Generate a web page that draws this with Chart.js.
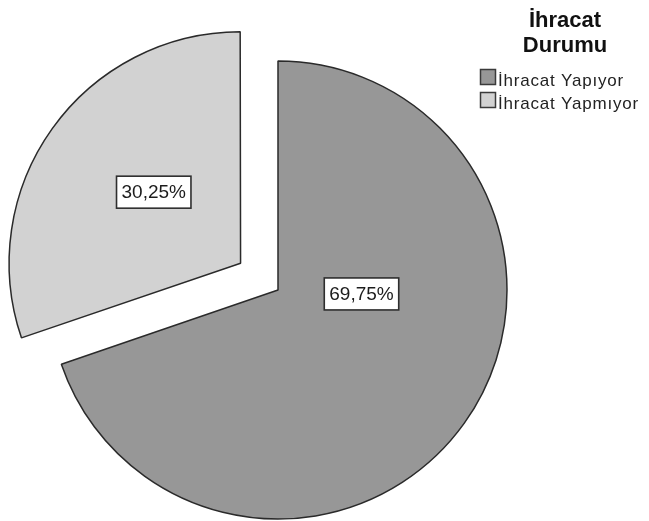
<!DOCTYPE html>
<html lang="tr">
<head>
  <meta charset="UTF-8" />
  <title>İhracat Durumu</title>
  <script src="https://cdn.jsdelivr.net/npm/chart.js"></script>
  <style>
    * { margin: 0; padding: 0; box-sizing: border-box; }
    body { background: #fff; }
    .wrap { position: relative; width: 649px; height: 521px; }
  </style>
</head>
<body>
  <div class="wrap"><canvas id="pie"></canvas></div>

  <script>
    const legendTitle = ['İhracat', 'Durumu'];
    const categories = ['İhracat Yapıyor', 'İhracat Yapmıyor'];
    const shares = [69.75, 30.25];
    const sliceColors = ['#979797', '#d2d2d2'];
    const explode = [0, 184]; // Chart.js shifts an arc by offset / 4

    // label placement inside each slice: angle from 12 o'clock (deg), distance as part of the radius
    const labelSpots = [[92.7, 0.365], [309.3, 0.49]];

    const fmt = v => v.toFixed(2).replace('.', ',') + '%';

    const pieDecor = {
      id: 'pieDecor',
      afterDatasetsDraw(chart) {
        const ctx = chart.ctx;
        const meta = chart.getDatasetMeta(0);

        // value boxes
        ctx.save();
        ctx.font = '19px "Liberation Sans", Arial, sans-serif';
        ctx.textAlign = 'center';
        ctx.textBaseline = 'middle';
        meta.data.forEach((arc, i) => {
          const mid = (arc.startAngle + arc.endAngle) / 2;
          const off = (explode[i] || 0) / 4;
          const cx = arc.x + Math.cos(mid) * off;
          const cy = arc.y + Math.sin(mid) * off;
          const a = labelSpots[i][0] * Math.PI / 180;
          const r = labelSpots[i][1] * arc.outerRadius;
          const x = cx + Math.sin(a) * r;
          const y = cy - Math.cos(a) * r;
          const text = fmt(shares[i]);
          const w = ctx.measureText(text).width + 10;
          const h = 32;
          ctx.fillStyle = '#fff';
          ctx.fillRect(x - w / 2, y - h / 2, w, h);
          ctx.strokeStyle = '#2e2e2e';
          ctx.lineWidth = 1.6;
          ctx.strokeRect(x - w / 2, y - h / 2, w, h);
          ctx.fillStyle = '#1c1c1c';
          ctx.fillText(text, x, y + 1);
        });
        ctx.restore();

        // legend title
        ctx.save();
        ctx.fillStyle = '#111';
        ctx.font = 'bold 22px "Liberation Sans", Arial, sans-serif';
        ctx.textAlign = 'center';
        ctx.textBaseline = 'alphabetic';
        ctx.fillText(legendTitle[0], 565, 27);
        ctx.fillText(legendTitle[1], 565, 52);
        ctx.restore();

        // legend items
        ctx.save();
        ctx.font = '17px "Liberation Sans", Arial, sans-serif';
        ctx.letterSpacing = '0.8px';
        ctx.textAlign = 'left';
        ctx.textBaseline = 'alphabetic';
        categories.forEach((name, i) => {
          const top = 69 + i * 23;
          ctx.fillStyle = sliceColors[i];
          ctx.fillRect(480, top, 16, 16);
          ctx.strokeStyle = '#3a3a3a';
          ctx.lineWidth = 1.5;
          ctx.strokeRect(480.5, top + 0.5, 15, 15);
          ctx.fillStyle = '#222';
          ctx.fillText(name, 498, top + 17);
        });
        ctx.restore();
      }
    };

    new Chart(document.getElementById('pie'), {
      type: 'pie',
      data: {
        labels: categories,
        datasets: [{
          data: shares,
          backgroundColor: sliceColors,
          borderColor: '#2a2a2a',
          borderWidth: 1.5,
          offset: explode,
          hoverOffset: 0
        }]
      },
      options: {
        responsive: true,
        maintainAspectRatio: false,
        animation: false,
        radius: 229,
        layout: { padding: { left: 0, right: 93, top: 59, bottom: 0 } },
        plugins: {
          legend: { display: false },
          tooltip: { enabled: false }
        }
      },
      plugins: [pieDecor]
    });
  </script>
</body>
</html>
